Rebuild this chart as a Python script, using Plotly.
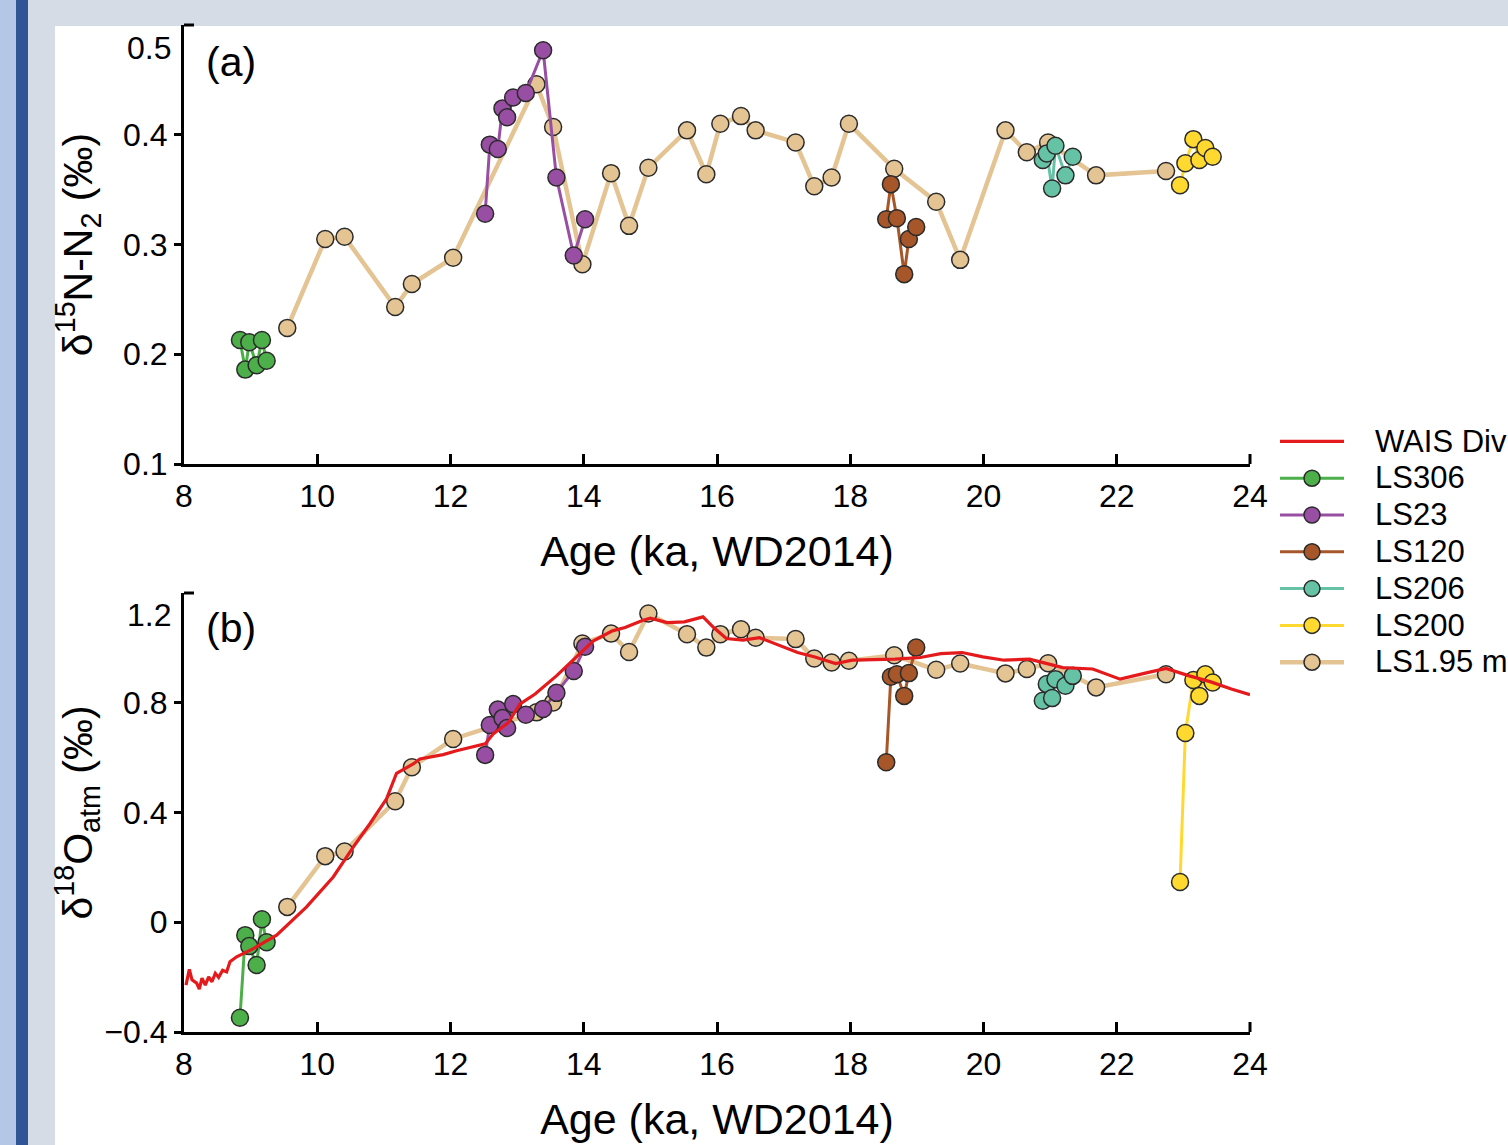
import plotly.graph_objects as go

# ---------------- data ----------------
ls306_age = [8.84, 8.92, 8.98, 9.09, 9.17, 9.24]
ls306_d15n = [0.213, 0.186, 0.211, 0.190, 0.213, 0.194]
ls306_d18o = [-0.348, -0.047, -0.087, -0.156, 0.011, -0.073]

ls23_age = [12.52, 12.59, 12.71, 12.78, 12.85, 12.94, 13.13, 13.39, 13.59, 13.85, 14.02]
ls23_d15n = [0.328, 0.391, 0.387, 0.424, 0.416, 0.434, 0.438, 0.477, 0.361, 0.290, 0.323]
ls23_d18o = [0.610, 0.719, 0.775, 0.744, 0.708, 0.795, 0.756, 0.777, 0.836, 0.916, 1.004]

ls120_age = [18.54, 18.61, 18.70, 18.81, 18.88, 18.99]
ls120_d15n = [0.323, 0.355, 0.324, 0.273, 0.305, 0.316]
ls120_d18o = [0.583, 0.895, 0.904, 0.825, 0.908, 1.001]

ls206_age = [20.89, 20.95, 21.03, 21.08, 21.23, 21.34]
ls206_d15n = [0.377, 0.383, 0.351, 0.390, 0.363, 0.380]
ls206_d18o = [0.807, 0.868, 0.817, 0.886, 0.862, 0.898]

ls200_age = [22.95, 23.03, 23.15, 23.24, 23.33, 23.44]
ls200_d15n = [0.354, 0.374, 0.396, 0.377, 0.388, 0.380]
ls200_d18o = [0.147, 0.690, 0.883, 0.825, 0.904, 0.874]

ls195_age = [9.55, 10.12, 10.41, 11.17, 11.42, 12.04, 13.29, 13.54, 13.98, 14.41,
             14.68, 14.97, 15.55, 15.84, 16.05, 16.36, 16.58, 17.18, 17.46, 17.72,
             17.98, 18.66, 19.29, 19.65, 20.33, 20.65, 20.97, 21.69, 22.74]
ls195_d15n = [0.224, 0.305, 0.307, 0.243, 0.264, 0.288, 0.446, 0.407, 0.282, 0.365,
              0.317, 0.370, 0.404, 0.364, 0.410, 0.417, 0.404, 0.393, 0.353, 0.361,
              0.410, 0.369, 0.339, 0.286, 0.404, 0.384, 0.393, 0.363, 0.367]
ls195_d18o = [0.056, 0.241, 0.258, 0.441, 0.565, 0.668, 0.765, 0.801, 1.016, 1.052,
              0.985, 1.125, 1.050, 1.001, 1.050, 1.068, 1.037, 1.032, 0.961, 0.947,
              0.953, 0.973, 0.920, 0.943, 0.907, 0.923, 0.944, 0.856, 0.904]

wais_age = [8.03, 8.08, 8.12, 8.19, 8.23, 8.27, 8.32, 8.37, 8.42, 8.47, 8.52, 8.58,
            8.64, 8.69, 8.79, 9.04, 9.39, 9.84, 10.24, 10.54, 10.79, 11.04, 11.19,
            11.44, 11.54, 11.89, 12.09, 12.52, 12.64, 12.87, 13.04, 13.27, 13.59,
            13.94, 14.14, 14.43, 14.62, 14.88, 15.00, 15.25, 15.51, 15.79, 15.95,
            16.14, 16.39, 16.64, 16.96, 17.21, 17.47, 17.78, 18.03, 18.67, 19.05,
            19.36, 19.68, 19.99, 20.31, 20.69, 20.88, 21.19, 21.64, 22.05, 22.46,
            22.74, 23.09, 23.40, 23.72, 24.00]
wais_d18o = [-0.229, -0.172, -0.210, -0.222, -0.244, -0.204, -0.229, -0.199, -0.217,
             -0.186, -0.201, -0.175, -0.181, -0.144, -0.126, -0.096, -0.047, 0.056,
             0.165, 0.274, 0.359, 0.450, 0.543, 0.577, 0.595, 0.611, 0.625, 0.650,
             0.686, 0.728, 0.795, 0.832, 0.898, 0.977, 1.025, 1.062, 1.074, 1.100,
             1.108, 1.092, 1.095, 1.113, 1.074, 1.034, 1.028, 1.037, 1.007, 0.983,
             0.967, 0.943, 0.955, 0.959, 0.965, 0.979, 0.983, 0.967, 0.955, 0.959,
             0.947, 0.928, 0.923, 0.886, 0.910, 0.925, 0.898, 0.877, 0.850, 0.829]

age_ticks = [8, 10, 12, 14, 16, 18, 20, 22, 24]
d15n_ticks = [0.1, 0.2, 0.3, 0.4]
d18o_ticks = [-0.4, 0, 0.4, 0.8]

# ---------------- styling ----------------
W, H = 1508, 1145
FONT = "Liberation Sans, Arial, sans-serif"
RED = "#e41a1c"
TAN = "#e5c494"
cores = [
    ("LS306", ls306_age, ls306_d15n, ls306_d18o, "#4daf4a"),
    ("LS23", ls23_age, ls23_d15n, ls23_d18o, "#984ea3"),
    ("LS120", ls120_age, ls120_d15n, ls120_d18o, "#a65628"),
    ("LS206", ls206_age, ls206_d15n, ls206_d18o, "#66c2a5"),
    ("LS200", ls200_age, ls200_d15n, ls200_d18o, "#ffd92f"),
]


def leg(name):
    # gap between legend symbol and label, label drawn a bit larger than row pitch
    return "\u2002\u2002<span style='font-size:31px'>" + name + "</span>"


def px_x(p):
    return p / W


def px_y(p):
    return 1 - p / H


fig = go.Figure()
marker_line = dict(color="#2b2b2b", width=1.5)

# tan series first (drawn underneath)
fig.add_trace(go.Scatter(x=ls195_age, y=ls195_d15n, mode="lines+markers", name=leg("LS1.95 m"),
                         line=dict(color=TAN, width=4.5),
                         marker=dict(size=17, color=TAN, line=marker_line),
                         xaxis="x", yaxis="y", legendrank=7))
fig.add_trace(go.Scatter(x=ls195_age, y=ls195_d18o, mode="lines+markers", name=leg("LS1.95 m"),
                         line=dict(color=TAN, width=4.5),
                         marker=dict(size=17, color=TAN, line=marker_line),
                         xaxis="x2", yaxis="y2", showlegend=False))

for i, (nm, a, d15, d18, col) in enumerate(cores):
    fig.add_trace(go.Scatter(x=a, y=d15, mode="lines+markers", name=leg(nm),
                             line=dict(color=col, width=3),
                             marker=dict(size=17, color=col, line=marker_line),
                             xaxis="x", yaxis="y", legendrank=i + 2))
    fig.add_trace(go.Scatter(x=a, y=d18, mode="lines+markers", name=leg(nm),
                             line=dict(color=col, width=3),
                             marker=dict(size=17, color=col, line=marker_line),
                             xaxis="x2", yaxis="y2", showlegend=False))

fig.add_trace(go.Scatter(x=wais_age, y=wais_d18o, mode="lines", name=leg("WAIS Divide"),
                         line=dict(color=RED, width=3.2),
                         xaxis="x2", yaxis="y2", legendrank=1))

xdom = [px_x(184), px_x(1250)]
ya_dom = [px_y(464), px_y(25)]
yb_dom = [px_y(1032), px_y(593)]

tickfont = dict(family=FONT, size=32, color="black")
titlefont = dict(family=FONT, size=43, color="black")
ytitlefont = dict(family=FONT, size=41, color="black")

common_x = dict(range=[8, 24], tickvals=age_ticks, ticks="inside", ticklen=10, tickwidth=2.5,
                tickcolor="black", showline=True, linecolor="black", linewidth=3,
                showgrid=False, zeroline=False, tickfont=tickfont, domain=xdom,
                ticklabelstandoff=2)
common_y = dict(ticks="outside", ticklen=7, tickwidth=2.5, tickcolor="black",
                showline=True, linecolor="black", linewidth=3, showgrid=False,
                zeroline=False, tickfont=tickfont)

fig.update_layout(
    template="none",
    width=W, height=H,
    margin=dict(l=0, r=0, t=0, b=0, autoexpand=False),
    paper_bgcolor="white", plot_bgcolor="rgba(0,0,0,0)",
    font=dict(family=FONT, color="black"),
    xaxis=dict(anchor="y", title=dict(text="Age (ka, WD2014)", font=titlefont, standoff=23),
               **common_x),
    xaxis2=dict(anchor="y2", title=dict(text="Age (ka, WD2014)", font=titlefont, standoff=23),
                **common_x),
    yaxis=dict(anchor="x", domain=ya_dom, range=[0.1, 0.5], tickvals=d15n_ticks,
               title=dict(text="δ<sup>15</sup>N-N<sub>2</sub> (‰)", font=ytitlefont, standoff=18),
               **common_y),
    yaxis2=dict(anchor="x2", domain=yb_dom, range=[-0.4, 1.2], tickvals=d18o_ticks,
                title=dict(text="δ<sup>18</sup>O<sub>atm</sub> (‰)", font=ytitlefont, standoff=0),
                **common_y),
    legend=dict(x=px_x(1275), y=px_y(418), xanchor="left", yanchor="top",
                font=dict(family=FONT, size=26, color="black"),
                bgcolor="rgba(0,0,0,0)", borderwidth=0, itemwidth=64,
                tracegroupgap=0),
    showlegend=True,
)

# slide-like background frame
shapes = [
    dict(type="rect", xref="paper", yref="paper", x0=0, x1=px_x(16), y0=0, y1=1,
         fillcolor="#b4c7e7", line=dict(width=0), layer="below"),
    dict(type="rect", xref="paper", yref="paper", x0=px_x(16), x1=px_x(28), y0=0, y1=1,
         fillcolor="#2f5597", line=dict(width=0), layer="below"),
    dict(type="rect", xref="paper", yref="paper", x0=px_x(28), x1=px_x(55), y0=0, y1=1,
         fillcolor="#d6dce5", line=dict(width=0), layer="below"),
    dict(type="rect", xref="paper", yref="paper", x0=px_x(28), x1=1, y0=px_y(26), y1=1,
         fillcolor="#d6dce5", line=dict(width=0), layer="below"),
]
# axis end caps
for xr, yr in [("x", "y"), ("x2", "y2")]:
    shapes.append(dict(type="line", xref=f"{xr} domain", yref=f"{yr} domain",
                       x0=0, x1=10 / 1066, y0=1, y1=1, line=dict(color="black", width=3)))
    shapes.append(dict(type="line", xref=f"{xr} domain", yref=f"{yr} domain",
                       x0=1, x1=1, y0=0, y1=10 / 439, line=dict(color="black", width=3)))
fig.update_layout(shapes=shapes)

annotations = [
    dict(text="(a)", x=px_x(204), y=px_y(62), xref="paper", yref="paper",
         xanchor="left", yanchor="middle", showarrow=False,
         font=dict(family=FONT, size=41, color="black")),
    dict(text="(b)", x=px_x(204), y=px_y(628), xref="paper", yref="paper",
         xanchor="left", yanchor="middle", showarrow=False,
         font=dict(family=FONT, size=41, color="black")),
    dict(text="0.5", x=px_x(173), y=px_y(48), xref="paper", yref="paper",
         xanchor="right", yanchor="middle", showarrow=False, font=tickfont),
    dict(text="1.2", x=px_x(173), y=px_y(615), xref="paper", yref="paper",
         xanchor="right", yanchor="middle", showarrow=False, font=tickfont),
]
fig.update_layout(annotations=annotations)

fig.write_html("out.html")
